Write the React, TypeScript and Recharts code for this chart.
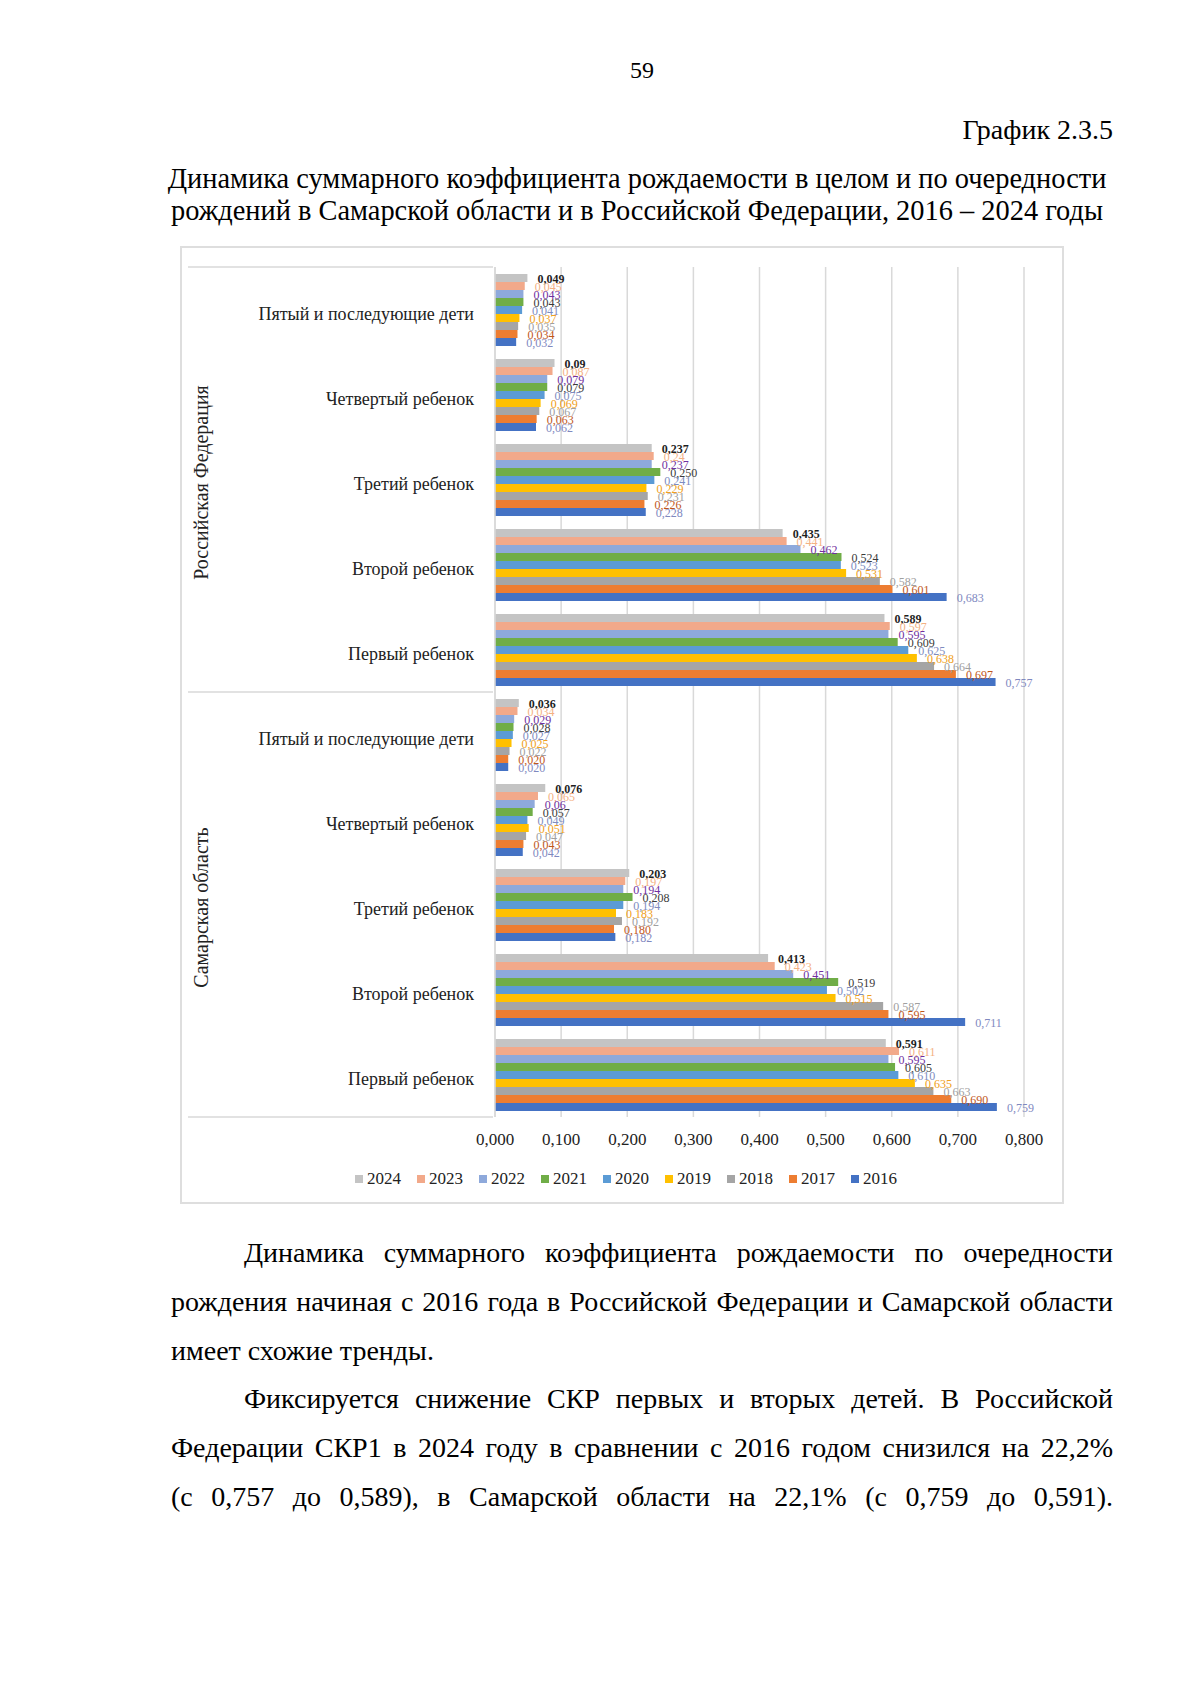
import { BarChart, Bar, XAxis, YAxis, CartesianGrid, Legend, LabelList } from 'recharts';

const FONT = '"Liberation Serif", "Times New Roman", serif';

const categories = ['Пятый и последующие дети', 'Четвертый ребенок', 'Третий ребенок', 'Второй ребенок', 'Первый ребенок'];
const regions = ['Российская Федерация', 'Самарская область'];
const years = ['2024', '2023', '2022', '2021', '2020', '2019', '2018', '2017', '2016'];
const xTicks = [0, 0.1, 0.2, 0.3, 0.4, 0.5, 0.6, 0.7, 0.8];

// per year: 5 categories for РФ, then 5 for Самарская область (labels as printed)
const v2024 = ['0,049', '0,09', '0,237', '0,435', '0,589', '0,036', '0,076', '0,203', '0,413', '0,591'];
const v2023 = ['0,045', '0,087', '0,24', '0,441', '0,597', '0,034', '0,065', '0,197', '0,423', '0,611'];
const v2022 = ['0,043', '0,079', '0,237', '0,462', '0,595', '0,029', '0,06', '0,194', '0,451', '0,595'];
const v2021 = ['0,043', '0,079', '0,250', '0,524', '0,609', '0,028', '0,057', '0,208', '0,519', '0,605'];
const v2020 = ['0,041', '0,075', '0,241', '0,523', '0,625', '0,027', '0,049', '0,194', '0,502', '0,610'];
const v2019 = ['0,037', '0,069', '0,229', '0,531', '0,638', '0,025', '0,051', '0,183', '0,515', '0,635'];
const v2018 = ['0,035', '0,067', '0,231', '0,582', '0,664', '0,022', '0,047', '0,192', '0,587', '0,663'];
const v2017 = ['0,034', '0,063', '0,226', '0,601', '0,697', '0,020', '0,043', '0,180', '0,595', '0,690'];
const v2016 = ['0,032', '0,062', '0,228', '0,683', '0,757', '0,020', '0,042', '0,182', '0,711', '0,759'];
const yearValues = [v2024, v2023, v2022, v2021, v2020, v2019, v2018, v2017, v2016];

const barColors = ['#C4C4C4', '#F2A98A', '#8EA9DB', '#70AD47', '#5B9BD5', '#FFC000', '#A5A5A5', '#ED7D31', '#4472C4'];
const labelColors = ['#1F1F1F', '#F4B183', '#7030A0', '#3A3A3A', '#7E8CC0', '#F0A020', '#A0A0A0', '#C0561A', '#7F89BF'];

const rows = regions.flatMap((region, r) =>
  categories.map((name, c) => {
    const i = r * categories.length + c;
    const row: Record<string, string | number> = { key: `${r}-${c}`, name, region };
    years.forEach((y, k) => {
      row[`y${y}`] = parseFloat(yearValues[k][i].replace(',', '.'));
      row[`l${y}`] = yearValues[k][i];
    });
    return row;
  })
);

const CHART_W = 884;
const CHART_H = 958;
const AXIS_W = 315;
const PLOT_H = 850;
const BAND = PLOT_H / rows.length;

const fmt = (v: number) => v.toFixed(3).replace('.', ',');

const CategoryTick = (props: any) => {
  const { y, payload } = props;
  const idx = rows.findIndex((r) => r.key === payload.value);
  const row = rows[idx];
  const half = BAND / 2;
  return (
    <g>
      <text x={294} y={y + 4} textAnchor="end" dominantBaseline="central" fontSize={18} fill="#222" fontFamily={FONT}>
        {row.name}
      </text>
      {idx % 5 === 0 && <line x1={8} x2={313} y1={y - half} y2={y - half} stroke="#D9D9D9" strokeWidth={1.5} />}
      {idx === rows.length - 1 && <line x1={8} x2={313} y1={y + half} y2={y + half} stroke="#D9D9D9" strokeWidth={1.5} />}
      {idx % 5 === 2 && (
        <text
          transform={`translate(21, ${y + 3}) rotate(-90)`}
          textAnchor="middle"
          dominantBaseline="central"
          fontSize={20}
          fill="#222"
          fontFamily={FONT}
        >
          {row.region}
        </text>
      )}
    </g>
  );
};

const ValueTick = (props: any) => {
  const { x, y, payload } = props;
  return (
    <text x={x} y={y + 22} textAnchor="middle" dominantBaseline="central" fontSize={17} fill="#222" fontFamily={FONT}>
      {fmt(payload.value)}
    </text>
  );
};

const makeLabel = (color: string, bold: boolean) => (props: any) => {
  const x = Number(props.x);
  const y = Number(props.y);
  const w = Number(props.width);
  const h = Number(props.height);
  return (
    <text
      x={x + w + 10}
      y={y + h / 2 + 1}
      dominantBaseline="central"
      fontSize={12}
      fill={color}
      fontWeight={bold ? 700 : 400}
      fontFamily={FONT}
    >
      {props.value}
    </text>
  );
};

const LegendContent = () => (
  <div
    style={{
      display: 'flex',
      justifyContent: 'center',
      alignItems: 'center',
      gap: 16,
      height: 24,
      paddingLeft: 8,
      fontFamily: FONT,
      fontSize: 17,
      color: '#222',
    }}
  >
    {years.map((y, k) => (
      <span key={y} style={{ display: 'flex', alignItems: 'center', gap: 4 }}>
        <span style={{ display: 'inline-block', width: 8, height: 8, background: barColors[k] }} />
        {y}
      </span>
    ))}
  </div>
);

const textStyle = {
  position: 'absolute' as const,
  fontFamily: FONT,
  fontSize: 28,
  lineHeight: '28px',
  color: '#000',
};

const Line = ({ top, left, width, text, justify }: { top: number; left: number; width: number; text: string; justify: boolean }) => (
  <div
    style={{
      ...textStyle,
      top,
      left,
      width,
      textAlign: justify ? 'justify' : 'left',
      textAlignLast: justify ? 'justify' : 'left',
    }}
  >
    {text}
  </div>
);

const App = () => {
  return (
    <div style={{ position: 'absolute', left: 0, top: 0, width: 1200, height: 1698, background: '#fff' }}>
      <div style={{ ...textStyle, fontSize: 24, lineHeight: '24px', top: 58, left: 0, width: 1284, textAlign: 'center' }}>59</div>
      <div style={{ ...textStyle, top: 116, left: 171, width: 942, textAlign: 'right' }}>График 2.3.5</div>
      <div style={{ ...textStyle, fontSize: 28.4, top: 165, left: 160, width: 954, textAlign: 'center', whiteSpace: 'nowrap' }}>
        Динамика суммарного коэффициента рождаемости в целом и по очередности
      </div>
      <div style={{ ...textStyle, fontSize: 28.4, top: 197, left: 160, width: 954, textAlign: 'center', whiteSpace: 'nowrap' }}>
        рождений в Самарской области и в Российской Федерации, 2016 – 2024 годы
      </div>

      <div style={{ position: 'absolute', left: 180, top: 246, width: CHART_W, height: CHART_H }}>
        <BarChart
          width={CHART_W}
          height={CHART_H}
          data={rows}
          layout="vertical"
          margin={{ top: 21, right: 40, left: 0, bottom: 13 }}
          barGap={0}
          barSize={8}
        >
          <CartesianGrid horizontal={false} stroke="#D9D9D9" strokeWidth={1.5} />
          <XAxis
            type="number"
            domain={[0, 0.8]}
            ticks={xTicks}
            height={50}
            axisLine={false}
            tickLine={false}
            tickSize={0}
            tickMargin={0}
            tick={<ValueTick />}
          />
          <YAxis
            type="category"
            dataKey="key"
            width={AXIS_W}
            interval={0}
            axisLine={{ stroke: '#D9D9D9', strokeWidth: 1.5 }}
            tickLine={false}
            tick={<CategoryTick />}
          />
          <Legend verticalAlign="bottom" height={24} content={<LegendContent />} wrapperStyle={{ left: 0, width: CHART_W }} />
          {years.map((y, k) => (
            <Bar key={y} dataKey={`y${y}`} name={y} fill={barColors[k]} isAnimationActive={false}>
              <LabelList dataKey={`l${y}`} content={makeLabel(labelColors[k], k === 0)} />
            </Bar>
          ))}
        </BarChart>
      </div>
      <div
        style={{
          position: 'absolute',
          left: 180,
          top: 246,
          width: CHART_W,
          height: CHART_H,
          border: '2px solid #DEDEDE',
          boxSizing: 'border-box',
          pointerEvents: 'none',
        }}
      />

      <Line top={1239} left={244} width={869} justify text="Динамика суммарного коэффициента рождаемости по очередности" />
      <Line top={1288} left={171} width={942} justify text="рождения начиная с 2016 года в Российской Федерации и Самарской области" />
      <Line top={1337} left={171} width={942} justify={false} text="имеет схожие тренды." />
      <Line top={1385} left={244} width={869} justify text="Фиксируется снижение СКР первых и вторых детей. В Российской" />
      <Line top={1434} left={171} width={942} justify text="Федерации СКР1 в 2024 году в сравнении с 2016 годом снизился на 22,2%" />
      <Line top={1483} left={171} width={942} justify text="(с 0,757 до 0,589), в Самарской области на 22,1% (с 0,759 до 0,591)." />
    </div>
  );
};

export default App;
